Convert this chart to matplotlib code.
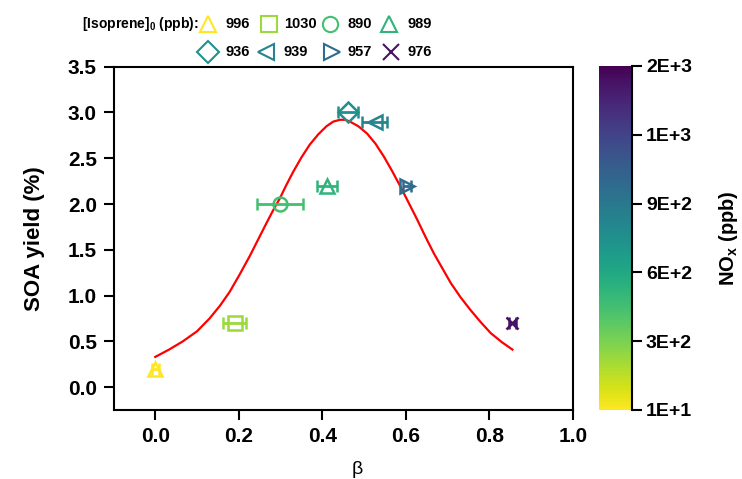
import numpy as np
import matplotlib
matplotlib.use('Agg')
import matplotlib.pyplot as plt
import matplotlib.colors as mcolors
import matplotlib.cm as cm
from matplotlib.ticker import FormatStrFormatter

plt.rcParams['font.family'] = ['Liberation Sans', 'DejaVu Sans']
plt.rcParams['font.weight'] = 'bold'
plt.rcParams['mathtext.fontset'] = 'custom'
plt.rcParams['mathtext.rm'] = 'Liberation Sans:bold'
plt.rcParams['mathtext.it'] = 'Liberation Sans:bold'
plt.rcParams['mathtext.bf'] = 'Liberation Sans:bold'

# data
isoprene = ['996', '1030', '890', '989', '936', '939', '957', '976']
beta = [0.0, 0.19, 0.298, 0.411, 0.461, 0.525, 0.603, 0.855]
beta_err = [0.008, 0.027, 0.055, 0.025, 0.024, 0.03, 0.01, 0.008]
soa_yield = [0.2, 0.7, 2.0, 2.2, 3.0, 2.9, 2.2, 0.7]
nox = [10, 235, 460, 535, 760, 835, 985, 1435]
markers = ['^', 's', 'o', '^', 'D', '<', '>', 'x']

# fitted curve, points
fit_x = [0.0, 0.033, 0.066, 0.100, 0.130, 0.155, 0.178, 0.202, 0.226, 0.246,
         0.266, 0.282, 0.298, 0.314, 0.330, 0.350, 0.370, 0.390, 0.410, 0.426,
         0.442, 0.455, 0.466, 0.486, 0.507, 0.527, 0.547, 0.567, 0.587, 0.607,
         0.627, 0.647, 0.667, 0.687, 0.707, 0.731, 0.755, 0.779, 0.803, 0.830, 0.855]
fit_y = [0.33, 0.41, 0.50, 0.61, 0.75, 0.89, 1.04, 1.23, 1.43, 1.61,
         1.79, 1.93, 2.06, 2.21, 2.35, 2.51, 2.65, 2.76, 2.85, 2.90,
         2.92, 2.92, 2.90, 2.85, 2.77, 2.66, 2.52, 2.36, 2.19, 2.01,
         1.83, 1.64, 1.46, 1.30, 1.14, 0.98, 0.84, 0.71, 0.59, 0.49, 0.41]

cb_ticks = [10, 310, 610, 910, 1210, 1510]
cb_labels = ['1E+1', '3E+2', '6E+2', '9E+2', '1E+3', '2E+3']

W, H = 742, 479
fig = plt.figure(figsize=(W/100, H/100), dpi=100)
ax = fig.add_axes([113.5/W, 1-410/H, (573-113.5)/W, (410-66.7)/H])

norm = mcolors.Normalize(vmin=10, vmax=1510)
cmap = plt.get_cmap('viridis_r')

ax.plot(fit_x, fit_y, color='red', lw=1.6, zorder=2)

colors = [cmap(norm(v)) for v in nox]
for i in range(len(beta)):
    ms = 10 if markers[i] != 'x' else 9
    ax.errorbar(beta[i], soa_yield[i], xerr=beta_err[i], fmt=markers[i], ms=ms,
                mfc='none', mec=colors[i], mew=1.8, ecolor=colors[i], elinewidth=2,
                capsize=4, capthick=2, zorder=3)

ax.set_xlim(-0.1, 1.0)
ax.set_ylim(-0.25, 3.5)
ax.set_xticks(np.arange(0, 1.01, 0.2))
ax.set_yticks(np.arange(0, 3.51, 0.5))
ax.xaxis.set_major_formatter(FormatStrFormatter('%.1f'))
ax.yaxis.set_major_formatter(FormatStrFormatter('%.1f'))
for s in ax.spines.values():
    s.set_linewidth(1.5)
ax.tick_params(direction='out', length=7, width=1.5, labelsize=15, pad=5)
ax.set_ylabel('SOA yield (%)', fontsize=16, fontweight='bold', labelpad=16)
ax.set_xlabel('β', fontsize=14, fontweight='normal')
ax.xaxis.set_label_coords(0.53, -0.15)

# colorbar
cax = fig.add_axes([599/W, 1-410/H, 33/W, (410-66)/H])
sm = cm.ScalarMappable(norm=norm, cmap=cmap)
cb = fig.colorbar(sm, cax=cax)
cb.outline.set_visible(False)
cax.plot([1, 1], [0, 1], transform=cax.transAxes, color='k', lw=1.5, clip_on=False)
cb.set_ticks(cb_ticks)
cb.set_ticklabels(cb_labels)
cax.tick_params(direction='out', length=7, width=1.5, labelsize=14, pad=3)
cb.set_label('NO$_x$ (ppb)', fontsize=14.5, fontweight='bold', labelpad=18)

# legend on top, drawn in pixel coordinates
lax = fig.add_axes([0, 0, 1, 1])
lax.set_xlim(0, W)
lax.set_ylim(H, 0)
lax.axis('off')
leg_mx = [208, 269, 330, 389, 208, 266, 332, 391]
leg_tx = [225, 284, 348, 407, 225, 284, 348, 407]
leg_y = [24, 24, 24, 24, 52, 52, 52, 52]
for i in range(len(isoprene)):
    lax.plot(leg_mx[i], leg_y[i], marker=markers[i], ls='none', ms=11, mfc='none',
             mec=colors[i], mew=1.5)
    lax.text(leg_tx[i], leg_y[i], isoprene[i], fontsize=10.5, fontweight='bold',
             ha='left', va='center')
lax.text(82, 24, '[Isoprene]$_0$ (ppb):', fontsize=10, fontweight='bold',
         ha='left', va='center')

plt.savefig('out.png', dpi=100)
plt.close()
